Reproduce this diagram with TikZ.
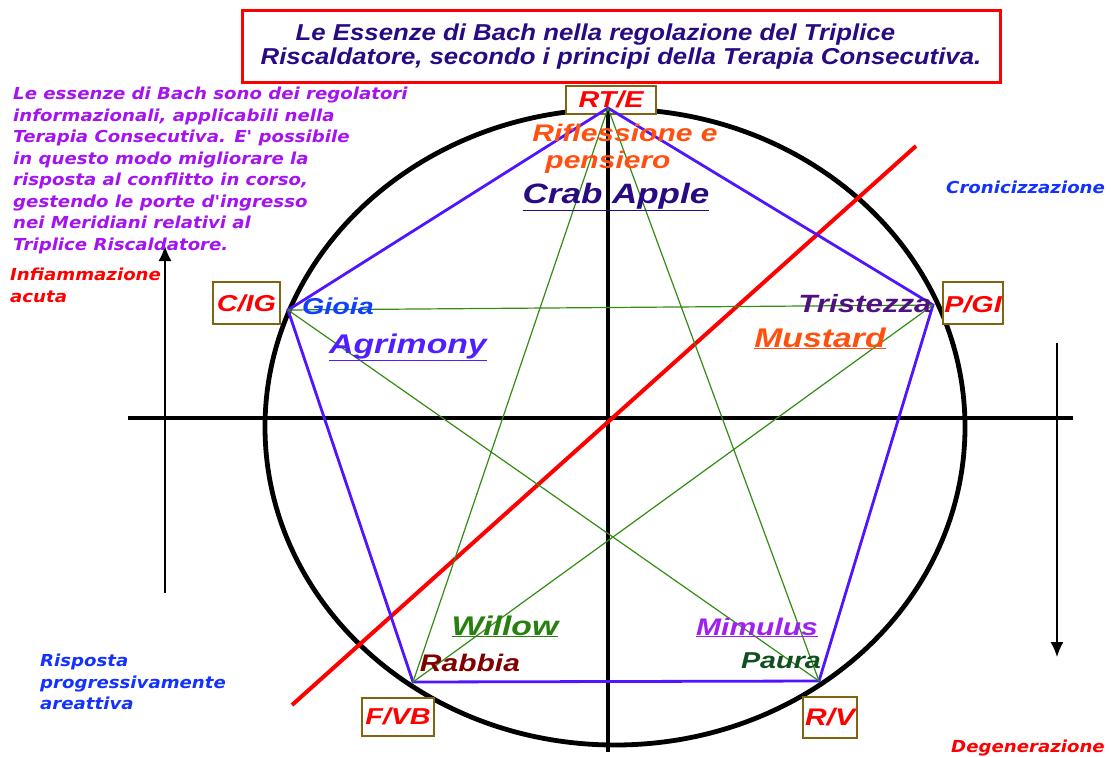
\documentclass[tikz,border=0pt]{standalone}
\usepackage{fontspec}
\setmainfont{Liberation Sans}[FakeStretch=1.12]
\newfontfamily\labelfont{Liberation Sans}[FakeStretch=1.25]
\newfontfamily\notefont{DejaVu Sans}[FakeStretch=1.1]
\usetikzlibrary{math,arrows.meta}

\definecolor{indigo}{RGB}{40,10,130}
\definecolor{orangered}{RGB}{255,80,16}
\definecolor{penta}{RGB}{80,20,255}
\definecolor{stargreen}{RGB}{50,140,20}
\definecolor{boxbrown}{RGB}{128,100,16}
\definecolor{notepurple}{RGB}{165,20,240}
\definecolor{noteblue}{RGB}{20,50,255}
\definecolor{gioiablue}{RGB}{16,64,255}
\definecolor{agriblue}{RGB}{80,30,255}
\definecolor{tristepurple}{RGB}{80,16,128}
\definecolor{willowgreen}{RGB}{40,128,16}
\definecolor{rabbiared}{RGB}{128,0,0}
\definecolor{mimuluspurple}{RGB}{160,32,240}
\definecolor{pauragreen}{RGB}{16,80,32}

\begin{document}
\begin{tikzpicture}[x=1pt,y=-1pt,
  lab/.style={font=\labelfont\bfseries\itshape\fontsize{#1}{#1}\selectfont, inner sep=0pt, anchor=base},
  note/.style={font=\notefont\bfseries\itshape\fontsize{16.5}{21.5}\selectfont, align=left, inner sep=0pt, anchor=north west},
  vbox/.style={draw=boxbrown, line width=2pt, fill=white, text=red, inner sep=0pt,
    font=\bfseries\itshape\fontsize{23}{23}\selectfont},
  edge/.style={draw=penta, line width=2.8pt},
  star/.style={draw=stargreen, line width=1.2pt}]
  \useasboundingbox (0,0) rectangle (1111,756);
  \tikzmath{\cx = 615; \cy = 427; \rx = 350; \ry = 318;}

  \coordinate (rte) at (608,108);
  \coordinate (cig) at (288,310);
  \coordinate (pgi) at (933,305);
  \coordinate (fvb) at (413,682);
  \coordinate (rv) at (819,681);
  \coordinate (axisW) at (128,418);
  \coordinate (axisE) at (1073,418);
  \coordinate (axisS) at (608,752);
  \coordinate (redA) at (292,705);
  \coordinate (redB) at (916,146);
  \coordinate (upS) at (165,593);
  \coordinate (upN) at (165,246);
  \coordinate (downN) at (1057,343);
  \coordinate (downS) at (1057,657);

  \draw[line width=4.8pt] (\cx,\cy) ellipse [x radius=\rx pt, y radius=\ry pt];

  \node[vbox, minimum width=90pt, minimum height=28pt] (rteBox) at (611,99.5) {};
  \node[vbox, minimum width=67pt, minimum height=42pt] (cigBox) at (246.5,303) {};
  \node[vbox, minimum width=60pt, minimum height=42pt] (pgiBox) at (973,303) {};
  \node[vbox, minimum width=72pt, minimum height=38pt] (fvbBox) at (398,717) {};
  \node[vbox, minimum width=54pt, minimum height=41pt] (rvBox) at (830,717.5) {};

  \draw[line width=4pt] (axisW) -- (axisE);
  \draw[line width=4pt] (rte) -- (axisS);
  \draw[red, line width=4pt] (redA) -- (redB);
  \draw[-{Latex[length=15pt,width=13pt]}, line width=1.4pt] (upS) -- (upN);
  \draw[-{Latex[length=15pt,width=13pt]}, line width=1.4pt] (downN) -- (downS);

  \draw[edge] (cig) -- (rte) -- (pgi) -- (rv) -- (fvb) -- cycle;
  \draw[star] (rte) -- (fvb) (rte) -- (rv) (cig) -- (pgi) (cig) -- (rv) (pgi) -- (fvb);

  \node[lab=23, text=red] (rteTxt) at (611,107) {RT/E};
  \node[lab=23, text=red] (cigTxt) at (246.5,311) {C/IG};
  \node[lab=23, text=red] (pgiTxt) at (973,312) {P/GI};
  \node[lab=23, text=red] (fvbTxt) at (398,724) {F/VB};
  \node[lab=24, text=red] (rvTxt) at (830,725) {R/V};

  \node[lab=24, text=orangered] (rifl) at (625,141) {Riflessione e};
  \node[lab=24, text=orangered] (pens) at (608,168) {pensiero};
  \node[lab=28, text=indigo] (crab) at (616,203) {\underline{Crab Apple}};
  \node[lab=23, text=gioiablue] (gioia) at (338,314) {Gioia};
  \node[lab=27, text=agriblue] (agri) at (408,353) {\underline{Agrimony}};
  \node[lab=25, text=tristepurple] (triste) at (865,312) {Tristezza};
  \node[lab=27, text=orangered] (mustard) at (820,347) {\underline{Mustard}};
  \node[lab=27, text=willowgreen] (willow) at (505,635) {\underline{Willow}};
  \node[lab=24, text=rabbiared] (rabbia) at (470,671) {Rabbia};
  \node[lab=24, text=mimuluspurple] (mimulus) at (757,635) {\underline{Mimulus}};
  \node[lab=23, text=pauragreen] (paura) at (781,668) {Paura};

  \node[draw=red, line width=3pt, minimum width=758pt, minimum height=72pt, align=left,
    text=indigo, font=\bfseries\itshape\fontsize{23}{24}\selectfont] (title) at (621,46.5)
    {\hspace*{35pt}Le Essenze di Bach nella regolazione del Triplice\\Riscaldatore, secondo i principi della Terapia Consecutiva.};

  \node[note, text=notepurple] (intro) at (13,87) {Le essenze di Bach sono dei regolatori\\informazionali, applicabili nella\\Terapia Consecutiva. E' possibile\\in questo modo migliorare la\\risposta al conflitto in corso,\\gestendo le porte d'ingresso\\nei Meridiani relativi al\\Triplice Riscaldatore.};
  \node[note, text=red] (infiam) at (10,268) {Infiammazione\\acuta};
  \node[note, text=noteblue] (cronic) at (946,181) {Cronicizzazione};
  \node[note, text=noteblue] (rispo) at (40,654) {Risposta\\progressivamente\\areattiva};
  \node[note, text=red] (degen) at (951,740) {Degenerazione};
\end{tikzpicture}
\end{document}
